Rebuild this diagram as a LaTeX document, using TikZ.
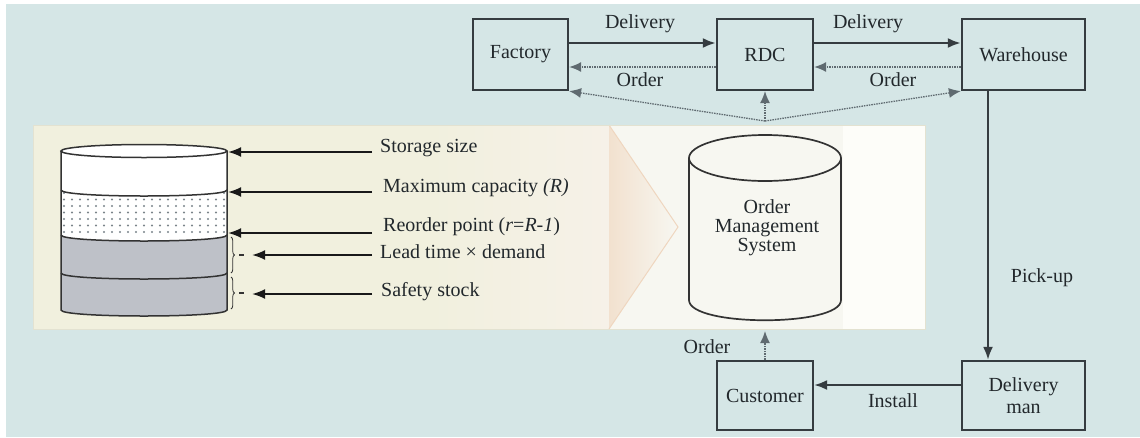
\documentclass[tikz,border=0pt]{standalone}
\usepackage{fontspec}
\setmainfont{Liberation Serif}
\usetikzlibrary{arrows.meta,decorations.pathreplacing}
\definecolor{bg}{HTML}{D5E6E6}
\definecolor{cream}{HTML}{F1F0DE}
\definecolor{creamb}{HTML}{F6F1E8}
\definecolor{peach}{HTML}{F2E1CF}
\definecolor{peachline}{HTML}{EFD6BF}
\definecolor{pwhite}{HTML}{F7F7F1}
\definecolor{pwhite2}{HTML}{FDFDF9}
\definecolor{ink}{HTML}{353C40}
\definecolor{txt}{HTML}{22282C}
\definecolor{cylgray}{HTML}{BEC1C8}
\definecolor{dotc}{HTML}{7A848A}
\definecolor{dotline}{HTML}{5F6A70}
\begin{document}
\begin{tikzpicture}[x=1pt,y=-1pt,
  font=\fontsize{20}{22}\selectfont,
  box/.style={draw=ink, line width=2.2pt, minimum height=71pt, text=txt, inner sep=0pt, align=center},
  lbl/.style={text=txt, inner sep=0pt, align=center},
  solidarr/.style={draw=ink, line width=2.6pt, -{Latex[length=13pt,width=10pt]}},
  thinarr/.style={draw=black!90, line width=2pt, -{Latex[length=13pt,width=10pt]}},
  dotarr/.style={draw=dotline, line width=1.5pt, densely dotted, -{Latex[length=12pt,width=10pt]}},
  cylline/.style={draw=black!80, line width=1.5pt},
  bracestyle/.style={draw=black!80, line width=0.8pt, decorate, decoration={brace, amplitude=3.5pt}}
]
\useasboundingbox (0,0) rectangle (1140,437);
\fill[white] (0,0) rectangle (1140,437);
\fill[bg] (6,4) rectangle (1140,437);

% panel
\fill[cream] (33,125) rectangle (609,329);
\shade[left color=cream, right color=creamb] (430,125) rectangle (609,329);
\fill[pwhite] (609,125) rectangle (925,329);
\fill[pwhite2] (843,125) rectangle (925,329);
\shade[left color=peach, right color=pwhite] (609,125) -- (678,227) -- (609,329) -- cycle;
\draw[peachline, line width=1pt] (609,125) -- (678,227) -- (609,329);
\draw[draw=cream!85!black!40!cream, line width=0.6pt] (33,125) rectangle (925,329);

% left cylinder
\fill[white] (61,151) -- (61,190) .. controls (61,198) and (227,198) .. (227,190) -- (227,151) -- cycle;
\path[fill=white] (61,190) .. controls (61,198) and (227,198) .. (227,190) -- (227,235) .. controls (227,243) and (61,243) .. (61,235) -- cycle;
\begin{scope}
\clip (61,190) .. controls (61,198) and (227,198) .. (227,190) -- (227,235) .. controls (227,243) and (61,243) .. (61,235) -- cycle;
\foreach \yy in {193,199.5,...,236} {
  \foreach \xx in {64,72,...,226} {
    \fill[dotc] (\xx,\yy) circle (1.1);
  }
}
\end{scope}
\fill[cylgray] (61,235) .. controls (61,243) and (227,243) .. (227,235) -- (227,310) .. controls (227,318) and (61,318) .. (61,310) -- cycle;
\fill[white] (144,151) ellipse [x radius=83, y radius=6.5];
\draw[cylline] (144,151) ellipse [x radius=83, y radius=6.5];
\draw[cylline] (61,151) -- (61,310) .. controls (61,318) and (227,318) .. (227,310) -- (227,151);
\draw[cylline] (61,190) .. controls (61,198) and (227,198) .. (227,190);
\draw[cylline] (61,235) .. controls (61,243) and (227,243) .. (227,235);
\draw[cylline] (61,273) .. controls (61,281) and (227,281) .. (227,273);

% braces
\coordinate (b1a) at (231,237);
\coordinate (b1b) at (231,273);
\coordinate (b2a) at (231,277);
\coordinate (b2b) at (231,309);
\draw[bracestyle] (b1a) -- (b1b);
\draw[bracestyle] (b2a) -- (b2b);
\draw[draw=black!80, line width=1.2pt] (239,255) -- (244,255);
\draw[draw=black!80, line width=1.2pt] (239,293) -- (244,293);

% labels of the left cylinder
\node[lbl, anchor=west] (ts) at (380,148) {Storage size};
\node[lbl, anchor=west] (tm) at (383,188) {Maximum capacity \textit{(R)}};
\node[lbl, anchor=west] (tr) at (383,227) {Reorder point (\textit{r}=\textit{R-1})};
\node[lbl, anchor=west] (tl) at (380,252) {Lead time × demand};
\node[lbl, anchor=west] (tf) at (381,292) {Safety stock};
\coordinate (cs) at (228,152);
\coordinate (cm) at (228,192);
\coordinate (cr) at (228,233);
\coordinate (cl) at (252,255);
\coordinate (cf) at (252,294);
\draw[thinarr] ([xshift=-8pt,yshift=-4pt]ts.west) -- (cs);
\draw[thinarr] ([xshift=-11pt,yshift=-4pt]tm.west) -- (cm);
\draw[thinarr] ([xshift=-11pt,yshift=-6pt]tr.west) -- (cr);
\draw[thinarr] ([xshift=-8pt,yshift=-3pt]tl.west) -- (cl);
\draw[thinarr] ([xshift=-9pt,yshift=-2pt]tf.west) -- (cf);

% boxes
\node[box, minimum width=95pt] (fac) at (520.5,54.5) {Factory};
\node[box, minimum width=96pt] (rdc) at (765,54.5) {RDC};
\node[box, minimum width=123pt] (wh) at (1023.5,54.5) {Warehouse};
\node[box, minimum width=96pt, minimum height=69pt] (cus) at (765,395.5) {Customer};
\node[box, minimum width=123pt, minimum height=69pt, font=\fontsize{20}{22}\selectfont] (dm) at (1023.5,395.5) {Delivery\\man};

% order management system
\draw[cylline, line width=1.7pt] (689,158) -- (689,300) .. controls (689,327) and (841,327) .. (841,300) -- (841,158);
\draw[cylline, line width=1.7pt] (765,158) ellipse [x radius=76, y radius=23];
\node[lbl, font=\fontsize{20}{19}\selectfont] (oms) at (767,228) {Order\\Management\\System};
\coordinate (omst) at (765,121);
\coordinate (omsb) at (765,331);

% top connectors
\draw[solidarr] ([yshift=11.5pt]fac.east) -- ([yshift=11.5pt]rdc.west);
\draw[solidarr] ([yshift=11.5pt]rdc.east) -- ([yshift=11.5pt]wh.west);
\draw[dotarr] ([yshift=-12.5pt]rdc.west) -- ([yshift=-12.5pt]fac.east);
\draw[dotarr] ([yshift=-12.5pt]wh.west) -- ([yshift=-12.5pt]rdc.east);
\node[lbl] (d1) at (640,24) {Delivery};
\node[lbl] (d2) at (868,24) {Delivery};
\node[lbl] (o1) at (640,80) {Order};
\node[lbl] (o2) at (893,80) {Order};

\draw[dotarr, line width=1.3pt] (omst) -- (fac.south east);
\draw[dotarr, line width=1.3pt] (omst) -- (rdc.south);
\draw[dotarr, line width=1.3pt] (omst) -- (wh.south west);

% right and bottom connectors
\draw[solidarr, line width=2.4pt] ([xshift=-35.5pt]wh.south) -- ([xshift=-35.5pt]dm.north);
\node[lbl] (pu) at (1042,278) {Pick-up};
\draw[solidarr, line width=2.2pt] ([yshift=10.5pt]dm.west) -- ([yshift=10.5pt]cus.east);
\node[lbl] (ins) at (893,401) {Install};
\draw[dotarr] (cus.north) -- (omsb);
\node[lbl] (o3) at (707,347) {Order};
\end{tikzpicture}
\end{document}
